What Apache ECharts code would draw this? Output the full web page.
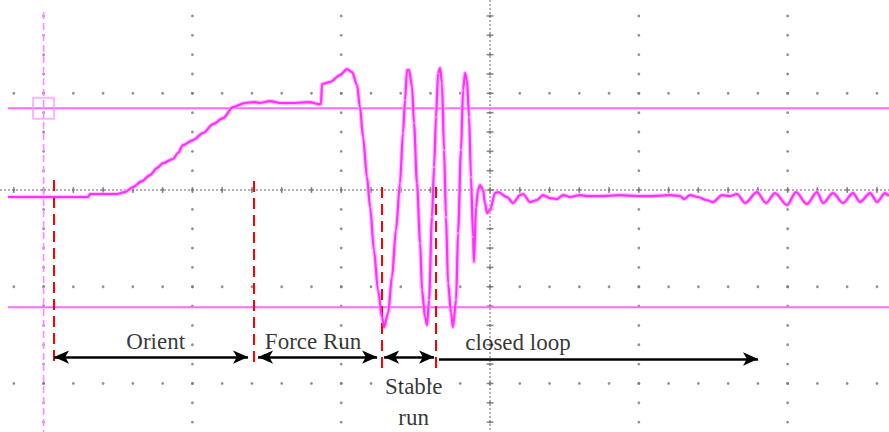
<!DOCTYPE html>
<html>
<head>
<meta charset="utf-8">
<script src="https://cdn.jsdelivr.net/npm/echarts@6/dist/echarts.min.js"></script>
<style>
html,body{margin:0;padding:0;background:#fff;}
#c{width:889px;height:432px;}
</style>
</head>
<body>
<div id="c"></div>
<script>
// ---- Data (time in 1/100 division units, voltage in 1/100 division units) ----
const traceTime = [-323.9,-270.1,-268.8,-250.7,-245.3,-239.9,-233.9,-228.5,-223.8,-219.7,-213.0,-209.7,-206.3,-199.6,-192.9,-186.1,-179.4,-172.7,-164.6,-158.0,-154.6,-147.8,-141.1,-131.0,-121.0,-115.6,-113.6,-112.9,-107.5,-100.8,-96.1,-92.7,-89.4,-87.4,-85.3,-82.7,-80.6,-78.0,-75.3,-72.6,-71.2,-68.5,-65.9,-63.2,-60.5,-58.5,-57.1,-55.8,-54.4,-52.4,-51.1,-49.1,-47.0,-45.7,-43.7,-42.3,-41.0,-39.0,-37.6,-36.3,-34.9,-33.6,-32.3,-30.9,-29.6,-28.2,-26.2,-24.9,-22.8,-21.5,-19.5,-18.1,-16.8,-15.5,-14.1,-12.8,-11.4,-10.8,-9.4,-8.1,-6.7,-4.7,-3.4,-2.0,0,3.4,5.4,11.4,15.5,20.2,22.2,26.9,31.6,35.6,40.3,45.0,49.1,53.8,60.5,65.2,75.9,87.4,98.8,109.5,121.0,127.7,130.4,134.4,139.8,145.2,149.9,155.9,161.3,166.0,171.4,179.4,185.5,191.5,199.6,205.6,213.0,219.7,223.8,230.5,237.2,243.9,248.6,255.4,260.1,265.4,268.1];
const traceVolt = [-7.2,-7.2,-4.1,-4.1,-2.1,3.1,9.3,15.5,22.7,27.9,32.1,38.3,46.5,51.7,58.9,68.2,74.4,85.8,90.0,91.0,90.0,92.0,90.0,90.0,91.0,88.9,88.9,109.6,111.7,118.9,125.1,122.0,108.6,85.8,54.8,13.4,-17.6,-62.0,-103.4,-131.3,-141.7,-127.2,-90.0,-41.4,7.2,58.9,93.1,124.1,124.1,106.5,69.3,7.2,-54.8,-103.4,-131.3,-139.6,-113.7,-27.9,23.8,75.5,121.0,126.1,110.6,41.4,-27.9,-96.2,-127.2,-141.7,-113.7,-44.5,41.4,103.4,121.0,113.7,75.5,13.4,-48.6,-74.4,-17.6,0,5.2,0,-13.4,-23.8,-20.7,-3.1,-2.1,-7.2,-13.4,-5.2,-4.1,-12.4,-10.3,-5.2,-8.3,-9.3,-5.2,-7.2,-5.2,-6.2,-6.2,-5.2,-6.2,-6.2,-5.2,-6.2,-9.3,-5.2,-7.2,-10.3,-12.4,-5.2,-6.2,-4.1,-13.4,-2.1,-13.4,-3.1,-15.5,-2.1,-14.5,-2.1,-13.4,-3.1,-13.4,-3.1,-12.4,-3.1,-12.4,-3.1,-6.2];

const cursorLevels = [84.5, -121.3];
const cursorStart = -324;
const triggerTime = -300;
const triggerTop = 184;

const phaseLines = [-293.0, -158.6, -72.6, -36.3];
const phaseLineTop = [10.3, 9.3, 3.1, 3.1];
const phaseLineBottom = [-180.0, -182.0, -188.0, -188.0];

const arrowStart = [-293.0, -155.9, -71.2, -34.3];
const arrowEnd = [-162.6, -75.9, -37.6, 180.1];
const arrowLevel = [-172.7, -172.7, -172.7, -174.7];
const arrowBothEnds = [true, true, true, false];

const phaseLabels = ['Orient', 'Force Run', 'Stable\nrun', 'closed loop'];
const labelTime = [-224.7, -118.9, -51.3, 18.8];
const labelVolt = [-156.7, -156.7, -219.0, -157.6];

const xMin = -329.3, xMax = 268.1, yMin = -250.2, yMax = 196.5;
const majorX = [-300, -200, -100, 0, 100, 200];
const majorY = [100, 0, -100, -200];
const minorStep = 20;

// ---- build grid dots ----
const gridDots = [];
majorY.forEach(function (y) {
  for (let x = -320; x <= 260; x += minorStep) gridDots.push([x, y]);
});
majorX.forEach(function (x) {
  for (let y = 180; y >= -240; y -= minorStep) gridDots.push([x, y]);
});
const hTicks = [];
for (let x = -320; x <= 260; x += minorStep) hTicks.push([x, 0]);
const vTicks = [];
for (let y = 180; y >= -240; y -= minorStep) vTicks.push([0, y]);

const trace = traceTime.map(function (t, i) { return [t, traceVolt[i]]; });

const series = [];
// dense center lines
series.push({
  type: 'line', silent: true, symbol: 'none', z: 1,
  data: [[xMin, 0], [xMax, 0]],
  lineStyle: { color: '#9a9a9a', width: 1.5, type: [2, 2] }
});
series.push({
  type: 'line', silent: true, symbol: 'none', z: 1,
  data: [[0, yMax], [0, yMin]],
  lineStyle: { color: '#9a9a9a', width: 1.5, type: [2, 2] }
});
series.push({
  type: 'scatter', silent: true, z: 2, symbol: 'rect', symbolSize: [1.5, 6],
  data: hTicks, itemStyle: { color: '#707070' }
});
series.push({
  type: 'scatter', silent: true, z: 2, symbol: 'rect', symbolSize: [7, 1.5],
  data: vTicks, itemStyle: { color: '#707070' }
});
series.push({
  type: 'scatter', silent: true, z: 2, symbol: 'circle', symbolSize: 2.8,
  data: gridDots, itemStyle: { color: '#777777' }
});
// cursor lines
cursorLevels.forEach(function (lv) {
  series.push({
    type: 'line', silent: true, symbol: 'none', z: 3,
    data: [[cursorStart, lv], [xMax, lv]],
    lineStyle: { color: '#ff6aff', width: 2 }
  });
});
// trigger marker
series.push({
  type: 'line', silent: true, symbol: 'none', z: 3,
  data: [[triggerTime, triggerTop], [triggerTime, yMin]],
  lineStyle: { color: '#ff8cff', width: 1.6, type: [7, 4] }
});
series.push({
  type: 'scatter', silent: true, z: 3, symbol: 'rect', symbolSize: 21,
  data: [[triggerTime, cursorLevels[0]]],
  itemStyle: { color: 'rgba(0,0,0,0)', borderColor: '#ffa0ff', borderWidth: 2 }
});
// trace (soft halo + core)
series.push({
  type: 'line', silent: true, symbol: 'none', z: 4, smooth: 0.3, smoothMonotone: 'x',
  data: trace,
  lineStyle: { color: '#ffa8ff', width: 4.5, opacity: 0.7 }
});
series.push({
  type: 'line', silent: true, symbol: 'none', z: 5, smooth: 0.3, smoothMonotone: 'x',
  data: trace,
  lineStyle: { color: '#ff30ff', width: 2.2 }
});
// red dashed phase lines + arrows
const redLines = phaseLines.map(function (x, i) {
  return [{ coord: [x, phaseLineTop[i]], symbol: 'none' }, { coord: [x, phaseLineBottom[i]], symbol: 'none' }];
});
const arrows = arrowStart.map(function (s, i) {
  return [
    { coord: [s, arrowLevel[i]], symbol: arrowBothEnds[i] ? 'arrow' : 'none' },
    { coord: [arrowEnd[i], arrowLevel[i]], symbol: 'arrow' }
  ];
});
series.push({
  type: 'line', silent: true, symbol: 'none', z: 6, data: [],
  markLine: {
    silent: true, animation: false, symbolSize: [10, 15],
    label: { show: false },
    lineStyle: { color: '#ff0000', width: 2, type: [11, 6] },
    data: redLines
  }
});
series.push({
  type: 'line', silent: true, symbol: 'none', z: 7, data: [],
  markLine: {
    silent: true, animation: false, symbolSize: [10, 15],
    label: { show: false },
    lineStyle: { color: '#000000', width: 2.5, type: 'solid' },
    itemStyle: { color: '#000' },
    data: arrows
  }
});
// labels
series.push({
  type: 'scatter', silent: true, z: 8, symbolSize: 0,
  data: labelTime.map(function (t, i) { return [t, labelVolt[i], phaseLabels[i]]; }),
  label: {
    show: true, position: 'inside', color: '#000',
    fontFamily: 'Liberation Serif', fontSize: 23, lineHeight: 31,
    align: 'center', verticalAlign: 'middle',
    formatter: function (p) { return p.data[2]; }
  }
});

const chart = echarts.init(document.getElementById('c'), null, { renderer: 'svg' });
chart.setOption({
  animation: false,
  backgroundColor: '#ffffff',
  grid: { left: 0, right: 0, top: 0, bottom: 0, containLabel: false },
  xAxis: { type: 'value', min: xMin, max: xMax, show: false },
  yAxis: { type: 'value', min: yMin, max: yMax, show: false },
  series: series
});
</script>
</body>
</html>
